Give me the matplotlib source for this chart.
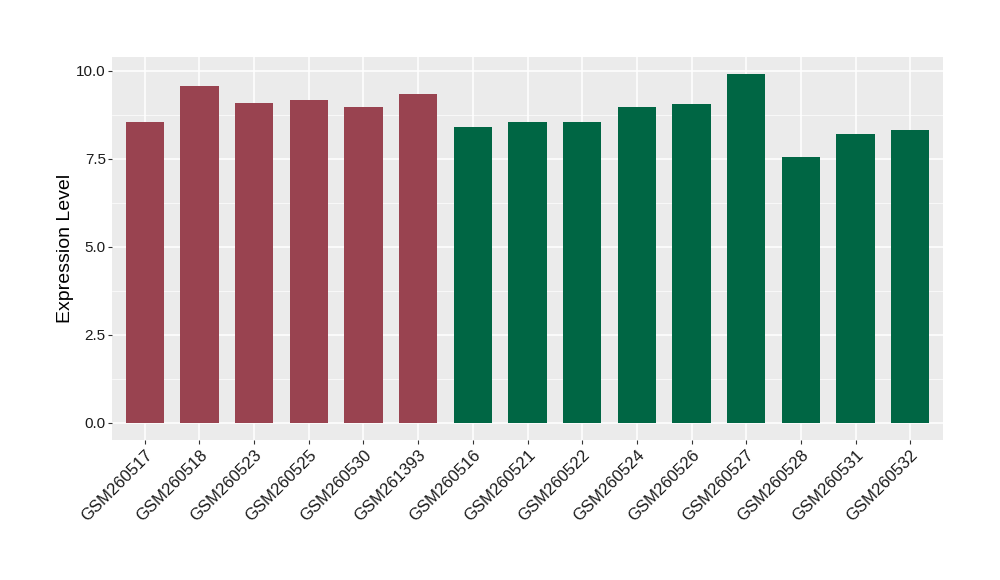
import matplotlib
matplotlib.use("Agg")
import matplotlib.pyplot as plt
import numpy as np

plt.rcParams['font.family'] = ['Liberation Sans', 'DejaVu Sans']

samples = ["GSM260517", "GSM260518", "GSM260523", "GSM260525", "GSM260530", "GSM261393",
           "GSM260516", "GSM260521", "GSM260522", "GSM260524", "GSM260526", "GSM260527",
           "GSM260528", "GSM260531", "GSM260532"]
values = [8.54, 9.58, 9.07, 9.16, 8.96, 9.33,
          8.39, 8.54, 8.54, 8.96, 9.05, 9.90, 7.54, 8.20, 8.31]
groups = ["A"] * 6 + ["B"] * 9
group_colors = {"A": "#994350", "B": "#006644"}

fig = plt.figure(figsize=(10, 5.8), dpi=100)
ax = fig.add_axes([0.112, 0.241, 0.831, 0.661])
ax.set_facecolor("#EBEBEB")

x = np.arange(len(samples))
ax.bar(x, values, width=0.7, color=[group_colors[g] for g in groups], zorder=3)

ymax = max(values)
ax.set_xlim(-0.6, len(samples) - 0.4)
ax.set_ylim(-0.05 * ymax, 1.05 * ymax)
ax.set_yticks([0, 2.5, 5.0, 7.5, 10.0])
ax.set_yticklabels(["0.0", "2.5", "5.0", "7.5", "10.0"])
ax.set_yticks([1.25, 3.75, 6.25, 8.75], minor=True)
ax.set_xticks(x)
ax.set_xticklabels(samples, rotation=45, ha="right", va="top", rotation_mode="anchor",
                   fontsize=12)

ax.grid(which="major", color="white", linewidth=1.1, zorder=0)
ax.grid(which="minor", axis="y", color="white", linewidth=0.5, zorder=0)
ax.set_axisbelow(True)
for s in ax.spines.values():
    s.set_visible(False)
ax.tick_params(axis="both", which="major", length=3, color="#333333", width=0.8,
               labelcolor="#1a1a1a", pad=2)
ax.tick_params(axis="y", which="major", labelsize=11, pad=1.5)
ax.tick_params(axis="y", which="minor", length=0)
ax.set_ylabel("Expression Level", fontsize=14, color="black")
ax.yaxis.set_label_coords(-0.0457, 0.5)

fig.savefig("out.png", dpi=100)
